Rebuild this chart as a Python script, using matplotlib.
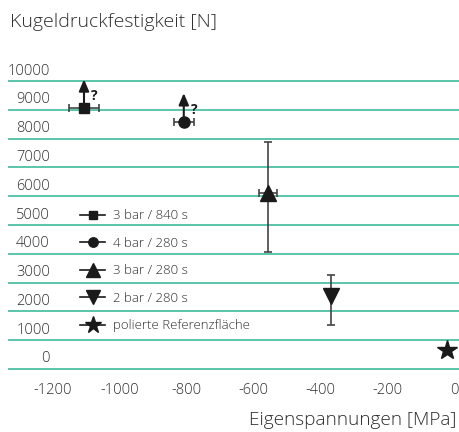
import matplotlib
matplotlib.use("Agg")
import matplotlib.pyplot as plt
from matplotlib.lines import Line2D
from matplotlib.transforms import ScaledTranslation

plt.rcParams['font.family'] = ['Open Sans', 'DejaVu Sans']
plt.rcParams['font.weight'] = 'light'

# Messwerte: Eigenspannung [MPa] / Kugeldruckfestigkeit [N]
labels = ['3 bar / 840 s', '4 bar / 280 s', '3 bar / 280 s', '2 bar / 280 s',
          'polierte Referenzfläche']
markers = ['s', 'o', '^', 'v', '*']
sizes = [7, 8, 12, 12, 15]
spannung = [-1105, -807, -556, -367, -21]
spannung_err = [44, 30, 26, 0, 0]
kraft = [9060, 8580, 6110, 2540, 660]
kraft_lo = [0, 0, 2050, 1010, 0]
kraft_hi = [0, 0, 1770, 720, 0]
offen = [True, True, False, False, False]   # Pfeil nach oben mit "?"
pfeil_len = 1000

yticks = list(range(0, 10001, 1000))
xticks = list(range(-1200, 1, 200))

gruen = '#3dbb9c'
schwarz = '#1a1a1a'
grau = '#444444'
text_farbe = '#2e2e2e'

fig = plt.figure(figsize=(4.6, 4.32), dpi=100)
ax = fig.add_axes([8 / 460, 0.1259, 452 / 460, 0.7065])
ax.set_xlim(-1332, 18)
ax.set_ylim(-300, 10300)

for i in range(len(labels)):
    ax.errorbar(spannung[i], kraft[i],
                xerr=spannung_err[i] if spannung_err[i] else None,
                yerr=[[kraft_lo[i]], [kraft_hi[i]]] if kraft_lo[i] else None,
                fmt=markers[i], ms=sizes[i], color=schwarz, ecolor=grau,
                elinewidth=1.2, capsize=3, capthick=1.2, zorder=3)
    if offen[i]:
        ax.annotate('', xy=(spannung[i], kraft[i] + pfeil_len),
                    xytext=(spannung[i], kraft[i] + 150),
                    arrowprops=dict(arrowstyle='-|>,head_length=0.7,head_width=0.3',
                                    color=schwarz, lw=1.5, shrinkA=0, shrinkB=0))
        ax.text(spannung[i] + 22, kraft[i] + 420, '?', fontsize=10,
                fontweight='bold', color=schwarz, ha='left', va='center')

ax.set_yticks(yticks)
ax.set_yticklabels([str(v) for v in yticks])
ax.set_xticks(xticks)
ax.set_xticklabels([str(v) for v in xticks])
ax.grid(axis='y', color=gruen, lw=1.2)
ax.tick_params(length=0, colors=text_farbe, labelsize=10.5)
ax.tick_params(axis='y', pad=0)
ax.tick_params(axis='x', pad=4)
for lab in ax.get_yticklabels():
    lab.set_transform(lab.get_transform() + ScaledTranslation(0.42, 0.12, fig.dpi_scale_trans))
for s in ax.spines.values():
    s.set_visible(False)

handles = [Line2D([], [], marker=m, ms=s * 0.85, color=schwarz, lw=1.2, ls='-')
           for m, s in zip(markers, sizes)]
ax.legend(handles, labels, loc='upper left', bbox_to_anchor=(0.133, 0.59),
          frameon=False, fontsize=9.5, handlelength=1.9, handletextpad=0.6,
          labelspacing=1.1, labelcolor=text_farbe)

fig.text(10 / 460, 1 - 22 / 432, 'Kugeldruckfestigkeit [N]', fontsize=14,
         color=text_farbe, ha='left', va='center')
fig.text(457 / 460, 1 - 420 / 432, 'Eigenspannungen [MPa]', fontsize=13.7,
         color=text_farbe, ha='right', va='center')

fig.savefig('out.png', dpi=100)
